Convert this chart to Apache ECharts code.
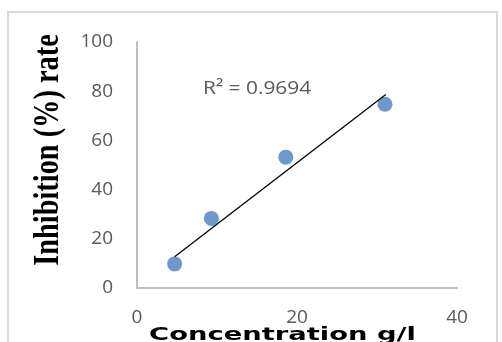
<!DOCTYPE html>
<html>
<head>
<meta charset="utf-8">
<script src="https://cdn.jsdelivr.net/npm/echarts@6/dist/echarts.min.js"></script>
<style>
html,body{margin:0;padding:0;background:#fff;}
#chart{width:502px;height:342px;}
</style>
</head>
<body>
<div id="chart"></div>
<script>
// Data
const concentration = [4.7, 9.3, 18.6, 31.0];
const inhibition = [9.8, 28.3, 53.2, 74.7];
const trendX = [4.7, 31.1];
const trendY = [12.7, 78.7];
const xTicks = [0, 20, 40];
const yTicks = [0, 20, 40, 60, 80, 100];
const yTitle = 'Inhibition (%) rate';
const xTitle = 'Concentration g/l';
const r2Label = 'R\u00B2 = 0.9694';

const points = concentration.map((x, i) => [x, inhibition[i]]);
const trend = trendX.map((x, i) => [x, trendY[i]]);

const chart = echarts.init(document.getElementById('chart'), null, {renderer: 'canvas'});
const labelStyle = {color: '#595959', fontSize: 19, fontFamily: '"Open Sans"'};
chart.setOption({
  animation: false,
  backgroundColor: '#ffffff',
  grid: {left: 137, right: 45, top: 42, bottom: 54, containLabel: false},
  xAxis: {
    type: 'value',
    min: xTicks[0], max: xTicks[xTicks.length - 1], interval: 20,
    axisLine: {show: true, lineStyle: {color: '#c0c0c0', width: 2}},
    axisTick: {show: false},
    splitLine: {show: false},
    axisLabel: Object.assign({margin: 20}, labelStyle)
  },
  yAxis: {
    type: 'value',
    min: yTicks[0], max: yTicks[yTicks.length - 1], interval: 20,
    axisLine: {show: true, lineStyle: {color: '#c0c0c0', width: 2}},
    axisTick: {show: false},
    splitLine: {show: false},
    axisLabel: Object.assign({margin: 24}, labelStyle)
  },
  series: [
    {
      type: 'line',
      data: trend,
      symbol: 'none',
      lineStyle: {color: '#000000', width: 1.3},
      z: 3
    },
    {
      type: 'scatter',
      data: points,
      symbol: 'circle',
      symbolSize: 15,
      itemStyle: {color: '#4a7ebb'},
      z: 2
    }
  ],
  graphic: [
    {
      type: 'rect',
      shape: {x: 8, y: 12, width: 489, height: 345},
      style: {fill: 'none', stroke: '#d9d9d9', lineWidth: 2},
      silent: true
    },
    {
      type: 'text',
      x: 48.5, y: 150,
      rotation: Math.PI / 2,
      scaleX: 0.81,
      style: {
        text: yTitle,
        font: 'bold 35px "Liberation Serif"',
        fill: '#000000',
        align: 'center',
        verticalAlign: 'middle'
      }
    },
    {
      type: 'text',
      x: 282.5, y: 335.5,
      scaleX: 1.52,
      style: {
        text: xTitle,
        font: 'bold 18px "DejaVu Sans"',
        fill: '#000000',
        align: 'center',
        verticalAlign: 'middle'
      }
    },
    {
      type: 'text',
      x: 203, y: 89,
      scaleX: 1.1,
      style: {
        text: r2Label,
        font: '19px "Open Sans"',
        fill: '#595959',
        align: 'left',
        verticalAlign: 'middle'
      }
    }
  ]
});
</script>
</body>
</html>
